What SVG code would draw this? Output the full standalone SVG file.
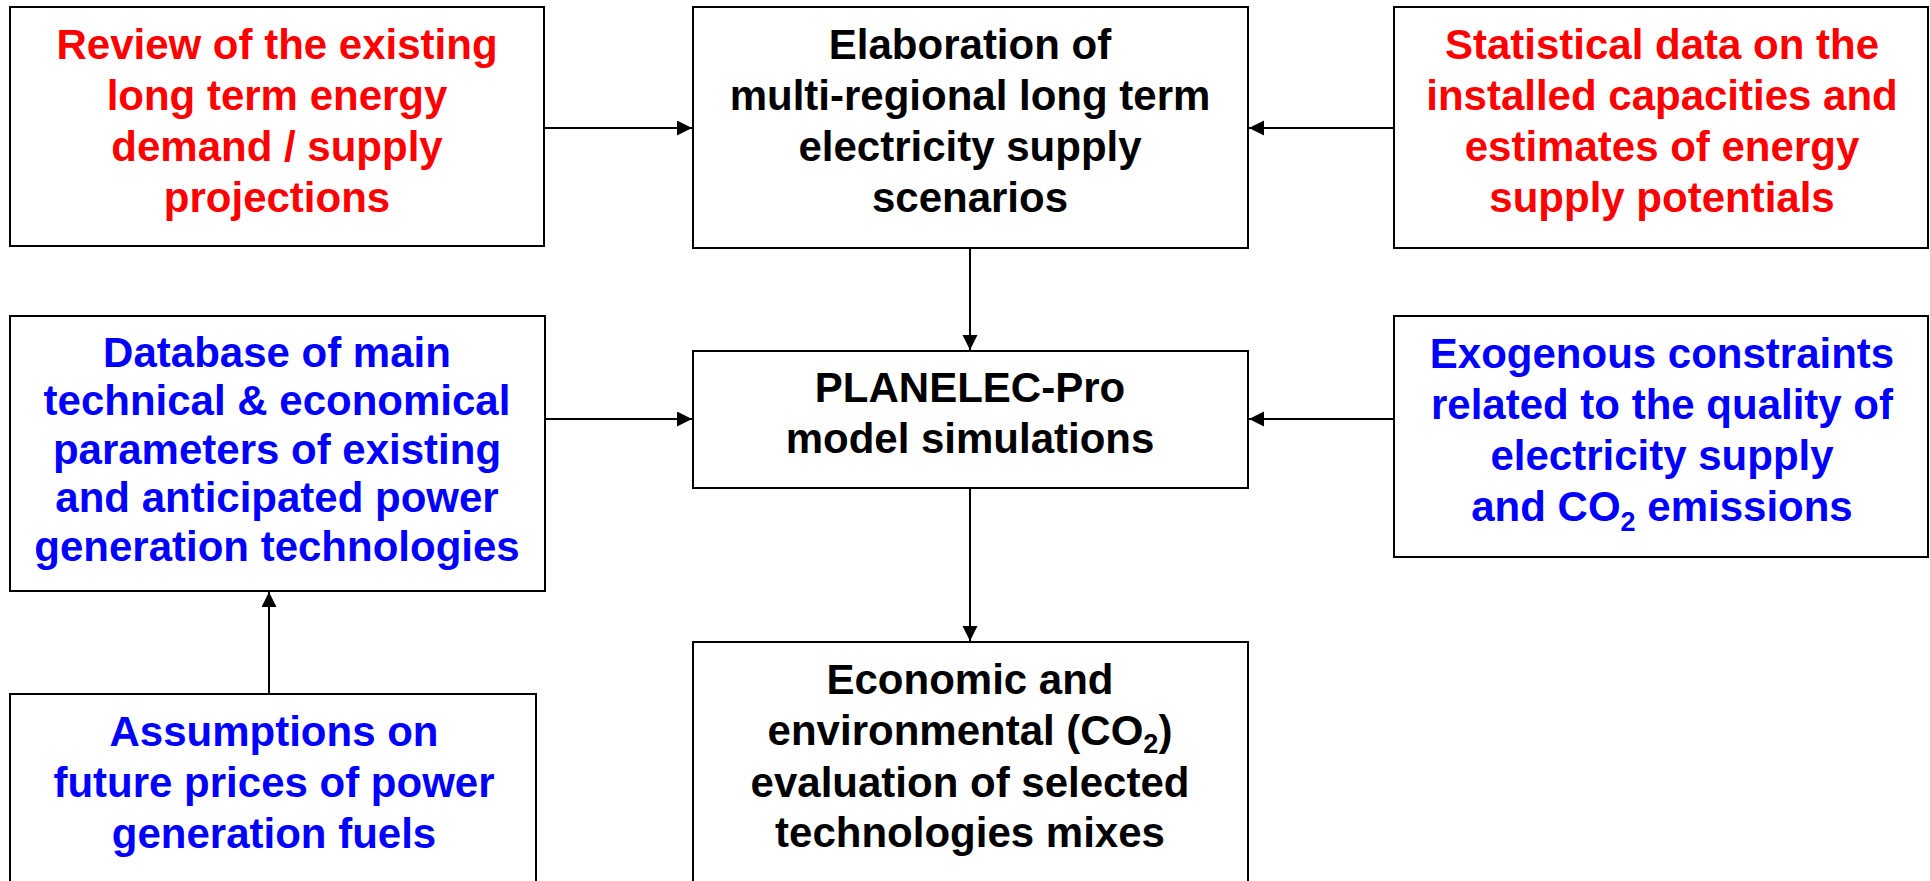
<svg xmlns="http://www.w3.org/2000/svg" width="1930" height="881" viewBox="0 0 1930 881">
<defs>
<style>
.box{fill:#fff;stroke:#000;stroke-width:2}
.t{font-family:"Liberation Sans",Arial,sans-serif;font-weight:bold;font-size:42px;text-anchor:middle}
.red{fill:#FF0000}.blue{fill:#0000FF}.blk{fill:#000}
.sub{font-size:27px}
.con{stroke:#000;stroke-width:2;fill:none;marker-end:url(#ah)}
</style>
<marker id="ah" markerUnits="userSpaceOnUse" markerWidth="16" markerHeight="16" refX="15" refY="7.5" orient="auto">
<path d="M0,0 L15,7.5 L0,15 z" fill="#000"/>
</marker>
</defs>
<rect width="1930" height="881" fill="#fff"/>
<g id="connectors">
<line class="con" x1="544" y1="128" x2="692" y2="128"/>
<line class="con" x1="1394" y1="128" x2="1249" y2="128"/>
<line class="con" x1="970" y1="248" x2="970" y2="350"/>
<line class="con" x1="545" y1="419" x2="692" y2="419"/>
<line class="con" x1="1394" y1="419" x2="1249" y2="419"/>
<line class="con" x1="970" y1="488" x2="970" y2="641"/>
<line class="con" x1="269" y1="694" x2="269" y2="592"/>
</g>
<g id="review">
<rect class="box" x="10" y="7" width="534" height="239"/>
<text class="t red" x="277" y="59">Review of the existing</text>
<text class="t red" x="277" y="110">long term energy</text>
<text class="t red" x="277" y="161">demand / supply</text>
<text class="t red" x="277" y="212">projections</text>
</g>
<g id="elaboration">
<rect class="box" x="693" y="7" width="555" height="241"/>
<text class="t blk" x="970" y="59">Elaboration of</text>
<text class="t blk" x="970" y="110">multi-regional long term</text>
<text class="t blk" x="970" y="161">electricity supply</text>
<text class="t blk" x="970" y="212">scenarios</text>
</g>
<g id="statistical">
<rect class="box" x="1394" y="7" width="534" height="241"/>
<text class="t red" x="1662" y="59">Statistical data on the</text>
<text class="t red" x="1662" y="110">installed capacities and</text>
<text class="t red" x="1662" y="161">estimates of energy</text>
<text class="t red" x="1662" y="212">supply potentials</text>
</g>
<g id="database">
<rect class="box" x="10" y="316" width="535" height="275"/>
<text class="t blue" x="277" y="367">Database of main</text>
<text class="t blue" x="277" y="415">technical &amp; economical</text>
<text class="t blue" x="277" y="464">parameters of existing</text>
<text class="t blue" x="277" y="512">and anticipated power</text>
<text class="t blue" x="277" y="561">generation technologies</text>
</g>
<g id="planelec">
<rect class="box" x="693" y="351" width="555" height="137"/>
<text class="t blk" x="970" y="402">PLANELEC-Pro</text>
<text class="t blk" x="970" y="453">model simulations</text>
</g>
<g id="exogenous">
<rect class="box" x="1394" y="316" width="534" height="241"/>
<text class="t blue" x="1662" y="368">Exogenous constraints</text>
<text class="t blue" x="1662" y="419">related to the quality of</text>
<text class="t blue" x="1662" y="470">electricity supply</text>
<text class="t blue" x="1662" y="521">and CO<tspan class="sub" dy="10">2</tspan><tspan dy="-10"> emissions</tspan></text>
</g>
<g id="assumptions">
<rect class="box" x="10" y="694" width="526" height="200"/>
<text class="t blue" x="274" y="746">Assumptions on</text>
<text class="t blue" x="274" y="797">future prices of power</text>
<text class="t blue" x="274" y="848">generation fuels</text>
</g>
<g id="economic">
<rect class="box" x="693" y="642" width="555" height="252"/>
<text class="t blk" x="970" y="694">Economic and</text>
<text class="t blk" x="970" y="745">environmental (CO<tspan class="sub" dy="8">2</tspan><tspan dy="-8">)</tspan></text>
<text class="t blk" x="970" y="797">evaluation of selected</text>
<text class="t blk" x="970" y="847">technologies mixes</text>
</g>
</svg>
